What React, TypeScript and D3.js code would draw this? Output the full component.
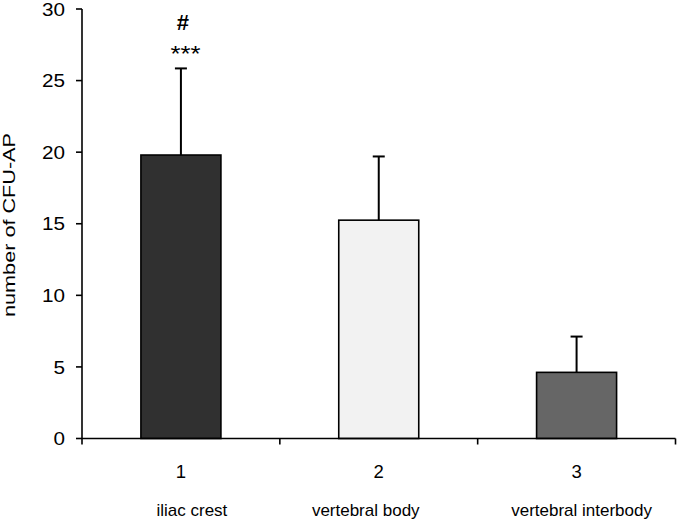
import React from "react";
import * as d3 from "d3";

const categories = ["1", "2", "3"];
const sites = ["iliac crest", "vertebral body", "vertebral interbody"];
const means = [19.8, 15.25, 4.62];
const errors = [6.05, 4.45, 2.5];
const fills = ["#303030", "#f2f2f2", "#666666"];
const yTicks = [0, 5, 10, 15, 20, 25, 30];

export default function App() {
  const W = 677, H = 519;
  const left = 82, right = 675.5, top = 9, bottom = 438.5;
  const x = d3.scaleBand<string>().domain(categories).range([left, right]).paddingInner(0).paddingOuter(0);
  const y = d3.scaleLinear().domain([0, 30]).range([bottom, top]);
  const bw = 80;
  const font = "Arial, 'Liberation Sans', sans-serif";
  const boundaries = [left, ...categories.map((c) => (x(c) as number) + x.bandwidth())];
  const c1 = (x("1") as number) + x.bandwidth() / 2;
  const siteShift = [11, -13, 5];
  return (
    <svg width={W} height={H} style={{ position: "absolute", left: 0, top: 0, background: "#fff" }} fontFamily={font}>
      {categories.map((c, i) => {
        const cx = (x(c) as number) + x.bandwidth() / 2;
        const yt = y(means[i] + errors[i]);
        return (
          <g key={c}>
            <line x1={cx} x2={cx} y1={y(means[i])} y2={yt} stroke="#000" strokeWidth={2} />
            <line x1={cx - 6} x2={cx + 6} y1={yt} y2={yt} stroke="#000" strokeWidth={2} />
            <rect x={cx - bw / 2} y={y(means[i])} width={bw} height={bottom - y(means[i])} fill={fills[i]} stroke="#000" strokeWidth={1.6} />
            <text x={cx} y={478} textAnchor="middle" fontSize={18.5}>{c}</text>
            <text x={cx + siteShift[i]} y={515.5} textAnchor="middle" fontSize={17}>{sites[i]}</text>
          </g>
        );
      })}
      <line x1={left} x2={left} y1={top} y2={bottom} stroke="#000" strokeWidth={1.6} />
      <line x1={left} x2={right} y1={bottom} y2={bottom} stroke="#000" strokeWidth={1.6} />
      {yTicks.map((t) => (
        <g key={t}>
          <line x1={left - 6} x2={left} y1={y(t)} y2={y(t)} stroke="#000" strokeWidth={1.6} />
          <text x={65} y={y(t) + 6.7} textAnchor="end" fontSize={18.5} textLength={11.5 * String(t).length} lengthAdjust="spacingAndGlyphs">{t}</text>
        </g>
      ))}
      {boundaries.map((b, i) => (
        <line key={i} x1={b} x2={b} y1={bottom} y2={bottom + 6} stroke="#000" strokeWidth={1.6} />
      ))}
      <text transform={`translate(15,225) rotate(-90)`} textAnchor="middle" fontSize={16.5} textLength={184} lengthAdjust="spacingAndGlyphs">number of CFU-AP</text>
      <text x={c1 + 2} y={30} textAnchor="middle" fontSize={22} fontWeight="bold">#</text>
      <text x={c1 + 4.5} y={61} textAnchor="middle" fontSize={22} textLength={30} lengthAdjust="spacingAndGlyphs">***</text>
    </svg>
  );
}
